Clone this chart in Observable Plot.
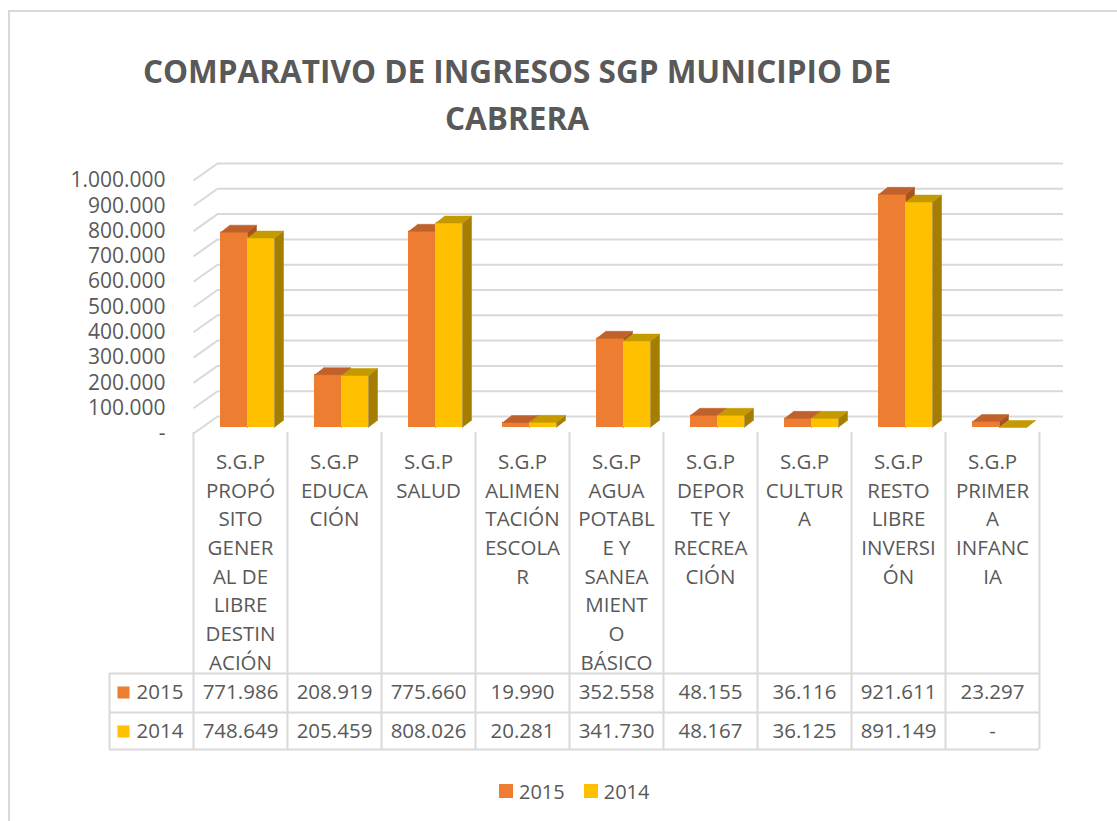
<!DOCTYPE html>
<html><head><meta charset="utf-8">
<script src="https://cdn.jsdelivr.net/npm/d3@7"></script>
<script src="https://cdn.jsdelivr.net/npm/@observablehq/plot@0.6"></script>
<style>
body{margin:0;background:#fff;font-family:"Open Sans",sans-serif;color:#595959}
#wrap{position:relative;width:1117px;height:821px;overflow:hidden;background:#fff}
#border{position:absolute;left:8px;top:10px;width:1200px;height:900px;border:2px solid #d9d9d9;box-sizing:border-box}
#title{position:absolute;left:0;top:47px;width:1034px;text-align:center;font-weight:700;font-size:31.5px;line-height:47px;color:#595959}
#chart{position:absolute;left:0;top:140px}
#legend{position:absolute;top:778px;left:499px;height:26px;display:flex;align-items:center;font-size:20px;color:#595959}
#legend .sw{width:14px;height:14px;margin-right:6px}
#legend .it{display:flex;align-items:center;margin-right:19px}
</style></head>
<body>
<div id="wrap">
  <div id="border"></div>
  <div id="title">COMPARATIVO DE INGRESOS SGP MUNICIPIO DE<br>CABRERA</div>
  <div id="chart"></div>
  <div id="legend"></div>
</div>
<script>
// ---- data ----
const categories = [
  "S.G.P\nPROPÓ\nSITO\nGENER\nAL DE\nLIBRE\nDESTIN\nACIÓN",
  "S.G.P\nEDUCA\nCIÓN",
  "S.G.P\nSALUD",
  "S.G.P\nALIMEN\nTACIÓN\nESCOLA\nR",
  "S.G.P\nAGUA\nPOTABL\nE Y\nSANEA\nMIENT\nO\nBÁSICO",
  "S.G.P\nDEPOR\nTE Y\nRECREA\nCIÓN",
  "S.G.P\nCULTUR\nA",
  "S.G.P\nRESTO\nLIBRE\nINVERSI\nÓN",
  "S.G.P\nPRIMER\nA\nINFANC\nIA"
];
const seriesNames = ["2015", "2014"];
const values2015 = [771986, 208919, 775660, 19990, 352558, 48155, 36116, 921611, 23297];
const values2014 = [748649, 205459, 808026, 20281, 341730, 48167, 36125, 891149, 0];
const yTicks = [0, 100000, 200000, 300000, 400000, 500000, 600000, 700000, 800000, 900000, 1000000];
const seriesColors = ["#ED7D31", "#FFC000"];
const topColors = ["#C0602A", "#C49A00"];
const sideColors = ["#A8521E", "#A57D00"];

// ---- layout ----
const W = 1117, H = 630;
const mL = 193, mR = 78, mT = 40, mB = 337;
const colPx = (W - mL - mR) / categories.length;
const ky = (H - mT - mB) / 1e6;
const DX = 9 / colPx, DY = 7 / ky;
const fmt = v => v === 0 ? "-" : d3.format(",")(v).replace(/,/g, ".");
const idx = d3.range(categories.length);

const mk = (vals, o0, o1) => idx.map(i => ({i, v: vals[i], x1: i + o0 / colPx, x2: i + o1 / colPx}));
const bars = [mk(values2015, 27, 54), mk(values2014, 54, 81)];
const tops = bs => bs.flatMap(b => [
  {id: b.i, x: b.x1, y: b.v}, {id: b.i, x: b.x2, y: b.v},
  {id: b.i, x: b.x2 + DX, y: b.v + DY}, {id: b.i, x: b.x1 + DX, y: b.v + DY}]);
const sides = bs => bs.flatMap(b => [
  {id: b.i, x: b.x2, y: 0}, {id: b.i, x: b.x2, y: b.v},
  {id: b.i, x: b.x2 + DX, y: b.v + DY}, {id: b.i, x: b.x2 + DX, y: DY}]);

const BAR_DY = -6;
const barMarks = s => [
  Plot.line(sides(bars[s]), {x: "x", y: "y", z: "id", fill: sideColors[s], stroke: sideColors[s], strokeWidth: 0.5, dy: BAR_DY}),
  Plot.rect(bars[s], {x1: "x1", x2: "x2", y1: 0, y2: "v", fill: seriesColors[s], dy: BAR_DY}),
  Plot.line(tops(bars[s]), {x: "x", y: "y", z: "id", fill: topColors[s], stroke: topColors[s], strokeWidth: 0.5, dy: BAR_DY})
];

const grid = "#d9d9d9";
const rowDy = [259, 298];
const FS = 20.5;
const tableMarks = [];
// horizontal table lines
[240, 279, 316].forEach(d => tableMarks.push(
  Plot.ruleY([0], {x1: 0, x2: categories.length, dy: d, insetLeft: -84, stroke: grid, strokeWidth: 2})));
// vertical dividers
tableMarks.push(Plot.ruleX(d3.range(categories.length + 1), {stroke: grid, strokeWidth: 2, insetTop: 252, insetBottom: -316}));
tableMarks.push(Plot.ruleX([0], {dx: -84, stroke: grid, strokeWidth: 2, insetTop: 493, insetBottom: -316}));
// rows
[values2015, values2014].forEach((vals, s) => {
  tableMarks.push(Plot.text(idx, {x: i => i + 0.5, y: 0, text: i => fmt(vals[i]), dy: rowDy[s], fontSize: FS}));
  tableMarks.push(Plot.dot([seriesNames[s]], {x: 0, y: 0, dx: -70, dy: rowDy[s], symbol: "square", r: 6.8, fill: seriesColors[s], stroke: "none"}));
  tableMarks.push(Plot.text([seriesNames[s]], {x: 0, y: 0, text: d => d, dx: -57, dy: rowDy[s], textAnchor: "start", fontSize: FS}));
});

const chart = Plot.plot({
  width: W, height: H,
  marginLeft: mL, marginRight: mR, marginTop: mT, marginBottom: mB,
  style: {fontFamily: "'Open Sans', sans-serif", color: "#595959", background: "transparent", overflow: "visible"},
  x: {domain: [0, categories.length], axis: null},
  y: {domain: [0, 1e6], ticks: yTicks, tickFormat: fmt, tickSize: 0, tickPadding: 28, label: null},
  marks: [
    Plot.ruleY(yTicks, {x1: 0, x2: categories.length, dx: 24, dy: -17, stroke: grid, strokeWidth: 2}),
    Plot.link(yTicks, {x1: 0, y1: d => d, x2: 24 / colPx, y2: d => d + 17 / ky, stroke: grid, strokeWidth: 2}),
    ...barMarks(0),
    ...barMarks(1),
    ...tableMarks,
    Plot.text(idx, {x: i => i + 0.5, y: 0, text: i => categories[i], lineAnchor: "top", dy: 15, fontSize: FS, lineHeight: 28.7 / FS})
  ]
});
const yAxis = chart.querySelector("g[aria-label='y-axis tick label']") || chart.querySelector("g[aria-label='y-axis']");
if (yAxis) yAxis.setAttribute("font-size", "21");
document.getElementById("chart").appendChild(chart);

const leg = document.getElementById("legend");
seriesNames.forEach((n, s) => {
  const it = document.createElement("div"); it.className = "it";
  const sw = document.createElement("div"); sw.className = "sw"; sw.style.background = seriesColors[s];
  const tx = document.createElement("span"); tx.textContent = n;
  it.appendChild(sw); it.appendChild(tx); leg.appendChild(it);
});
</script>
</body></html>
